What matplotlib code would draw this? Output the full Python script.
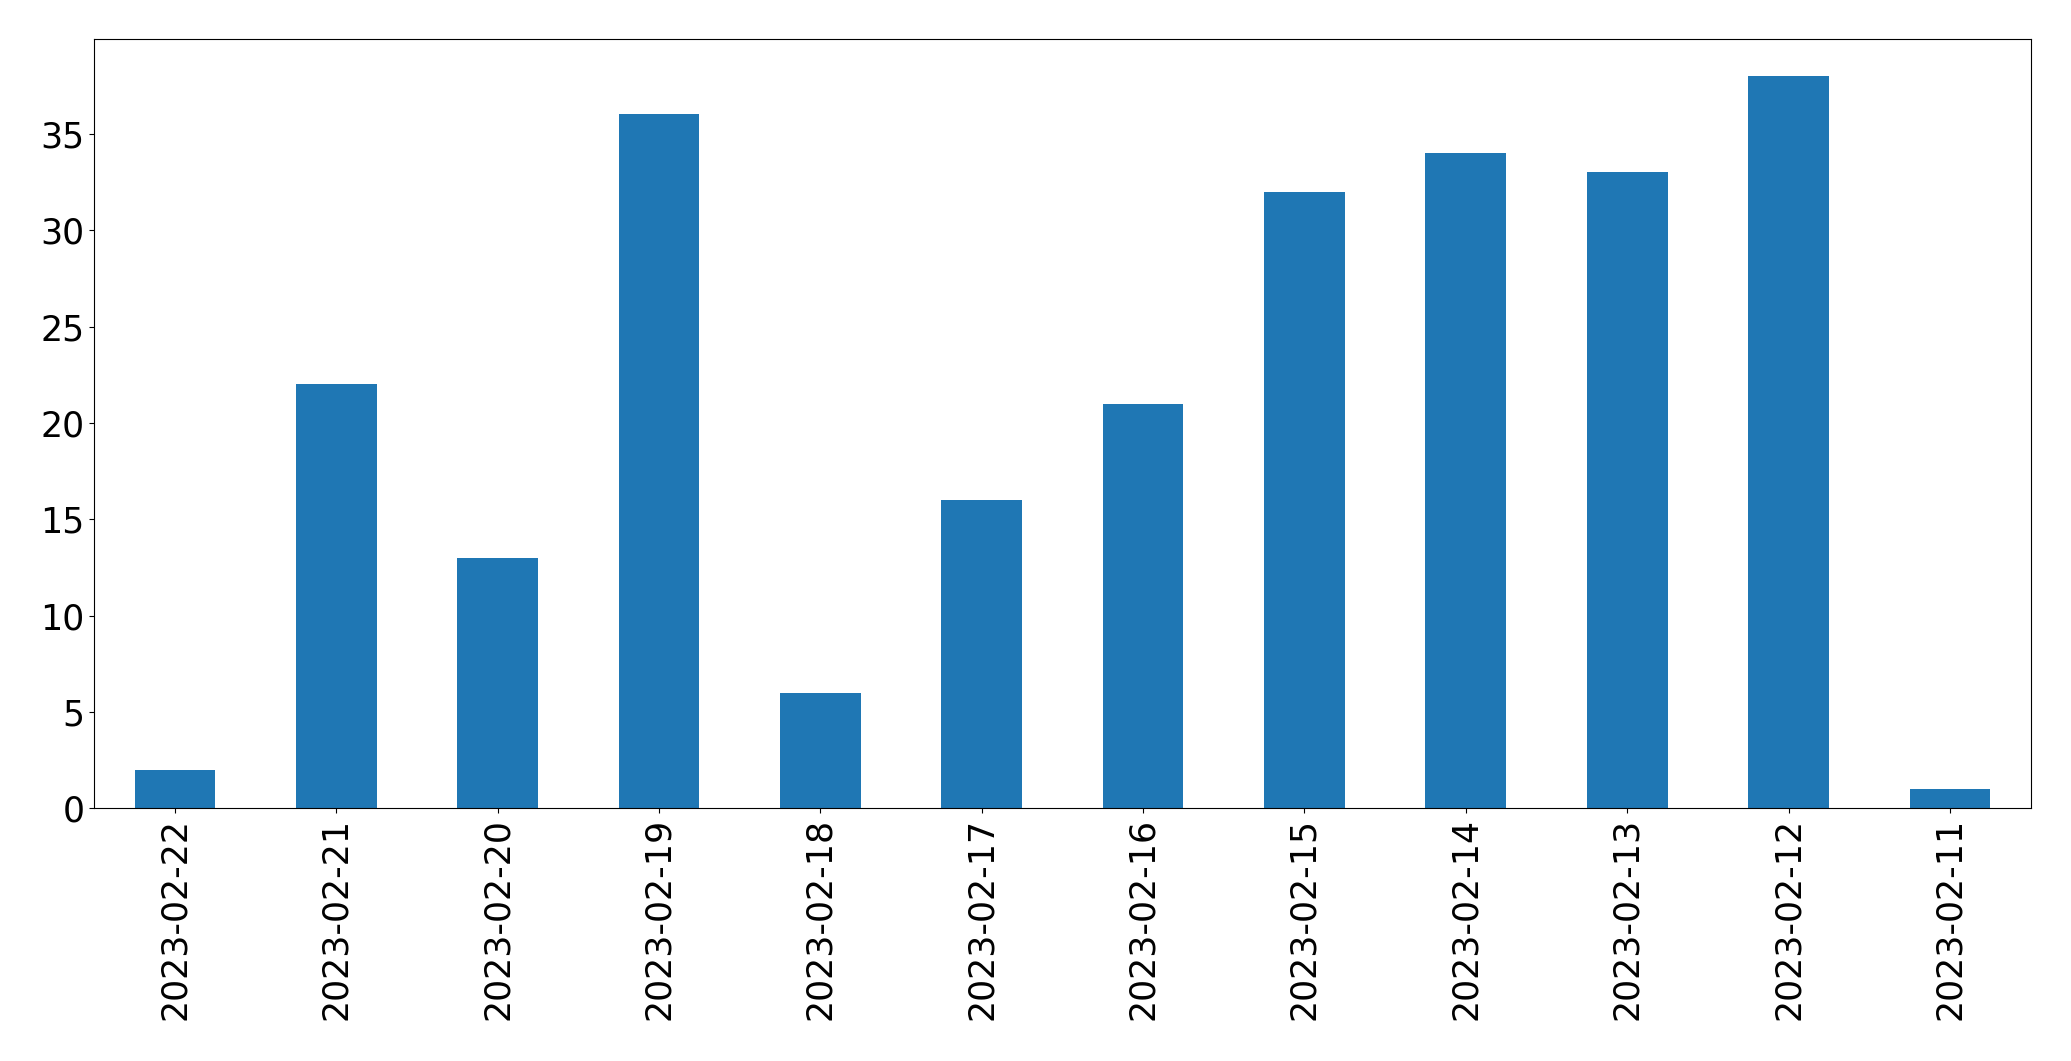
import matplotlib
matplotlib.use("Agg")
import matplotlib.pyplot as plt

dates = ["2023-02-22", "2023-02-21", "2023-02-20", "2023-02-19", "2023-02-18", "2023-02-17",
         "2023-02-16", "2023-02-15", "2023-02-14", "2023-02-13", "2023-02-12", "2023-02-11"]
counts = [2, 22, 13, 36, 6, 16, 21, 32, 34, 33, 38, 1]

fig, ax = plt.subplots(figsize=(20.71, 10.61), dpi=100)
ax.bar(range(len(dates)), counts, width=0.5, color="#1f77b4")
ax.set_xticks(range(len(dates)))
ax.set_xticklabels(dates, rotation=90)
ax.set_xlim(-0.5, len(dates) - 0.5)
ax.tick_params(labelsize=25)
fig.subplots_adjust(left=0.0455, right=0.9805, top=0.963, bottom=0.238)
fig.savefig("out.png")
